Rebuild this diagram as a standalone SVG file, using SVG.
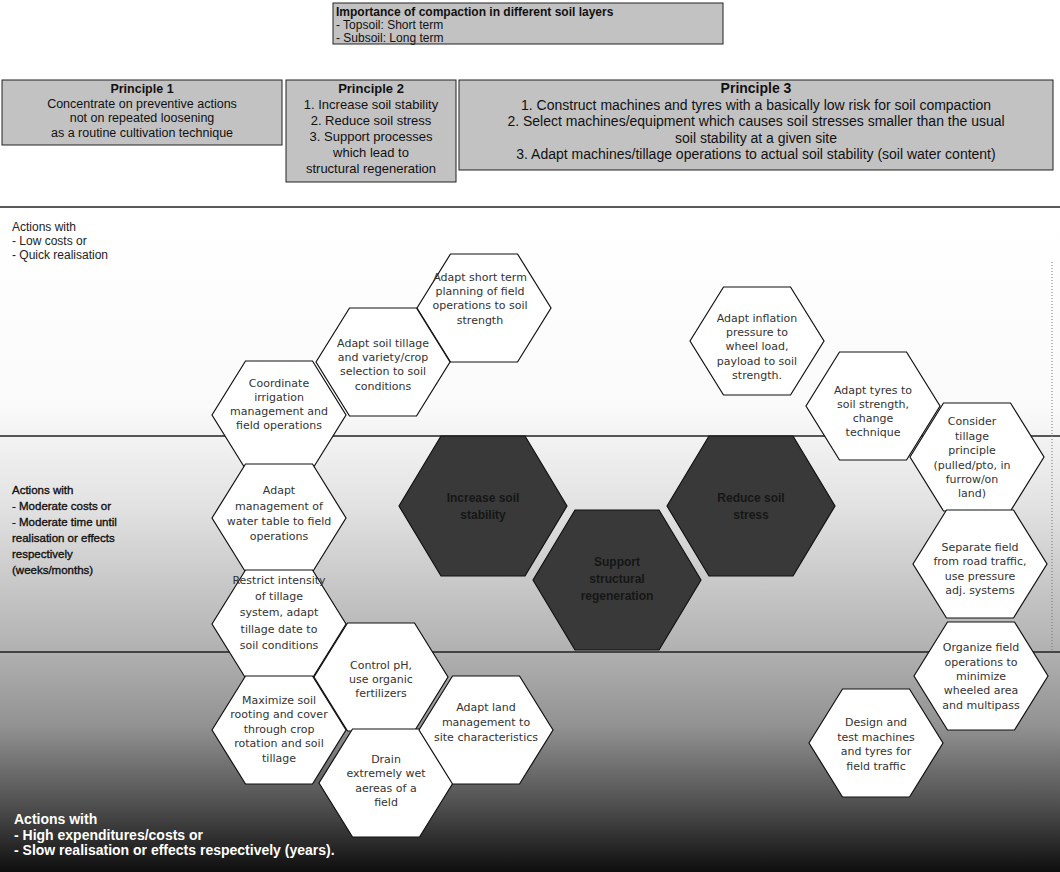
<svg xmlns="http://www.w3.org/2000/svg" width="1060" height="872" viewBox="0 0 1060 872">
<defs>
<linearGradient id="bg" x1="0" y1="207" x2="0" y2="872" gradientUnits="userSpaceOnUse">
<stop offset="0" stop-color="#ffffff"/>
<stop offset="0.3" stop-color="#fafafa"/>
<stop offset="0.45" stop-color="#e2e2e2"/>
<stop offset="0.66" stop-color="#b3b3b3"/>
<stop offset="0.78" stop-color="#929292"/>
<stop offset="0.9" stop-color="#4f4f4f"/>
<stop offset="1" stop-color="#0e0e0e"/>
</linearGradient>
<polygon id="hw" points="-67,0 -33.5,-54 33.5,-54 67,0 33.5,54 -33.5,54"/>
<polygon id="hd" points="-84,0 -42,-70 42,-70 84,0 42,70 -42,70"/>
</defs>
<style>
.box{fill:#c2c2c2;stroke:#222;stroke-width:1}
.pt{font-family:"Liberation Sans",Arial,sans-serif;font-size:13px;fill:#111;text-anchor:middle}
.p1{font-size:12.5px}
.p3{font-size:14px}
.tt{font-family:"Liberation Sans",Arial,sans-serif;font-size:12px;fill:#111}
.b{font-weight:bold}
.sep{stroke:#222;stroke-width:1.3}
.hexw{fill:#fff;stroke:#111;stroke-width:1.2}
.hexd{fill:#393939;stroke:#111;stroke-width:1.2}
.ht{font-family:"DejaVu Sans",Verdana,sans-serif;font-size:11px;fill:#333;text-anchor:middle}
.dt{font-family:"Liberation Sans",Arial,sans-serif;font-size:12px;font-weight:bold;fill:#161616;text-anchor:middle}
.lab{font-family:"Liberation Sans",Arial,sans-serif;font-size:12px;fill:#222}
.labm{font-family:"Liberation Sans",Arial,sans-serif;font-size:11.5px;fill:#111;stroke:#111;stroke-width:0.35}
.labw{font-family:"Liberation Sans",Arial,sans-serif;font-size:14px;font-weight:bold;fill:#fff}
</style>
<rect x="0" y="0" width="1060" height="872" fill="#fff"/>
<rect x="0" y="207" width="1060" height="665" fill="url(#bg)"/>

<g id="bands">
<line class="sep" x1="0" y1="207" x2="1060" y2="207"/>
<line class="sep" x1="0" y1="436" x2="1060" y2="436"/>
<line class="sep" x1="0" y1="652" x2="1060" y2="652"/>
<line x1="1052" y1="262" x2="1052" y2="650" stroke="#777" stroke-width="1" stroke-dasharray="1 2"/>
</g>

<g id="importance">
<rect class="box" x="333" y="3" width="390" height="41"/>
<text class="tt b" x="336" y="15.5">Importance of compaction in different soil layers</text>
<text class="tt" x="336" y="28.5">- Topsoil: Short term</text>
<text class="tt" x="336" y="41.5">- Subsoil: Long term</text>
</g>

<g id="principle1">
<rect class="box" x="2" y="80" width="280" height="65"/>
<text class="pt p1 b" x="142" y="93">Principle 1</text>
<text class="pt p1" x="142" y="107.5">Concentrate on preventive actions</text>
<text class="pt p1" x="142" y="122">not on repeated loosening</text>
<text class="pt p1" x="142" y="136.5">as a routine cultivation technique</text>
</g>
<g id="principle2">
<rect class="box" x="286" y="80" width="170" height="102"/>
<text class="pt b" x="371" y="93">Principle 2</text>
<text class="pt" x="371" y="109">1. Increase soil stability</text>
<text class="pt" x="371" y="125">2. Reduce soil stress</text>
<text class="pt" x="371" y="141">3. Support processes</text>
<text class="pt" x="371" y="157">which lead to</text>
<text class="pt" x="371" y="173">structural regeneration</text>
</g>
<g id="principle3">
<rect class="box" x="459" y="80" width="594" height="90"/>
<text class="pt p3 b" x="756" y="93">Principle 3</text>
<text class="pt p3" x="756" y="109.5">1. Construct machines and tyres with a basically low risk for soil compaction</text>
<text class="pt p3" x="756" y="126">2. Select machines/equipment which causes soil stresses smaller than the usual</text>
<text class="pt p3" x="756" y="142.5">soil stability at a given site</text>
<text class="pt p3" x="756" y="159">3. Adapt machines/tillage operations to actual soil stability (soil water content)</text>
</g>

<g id="label-low">
<text class="lab" x="12" y="231">Actions with</text>
<text class="lab" x="12" y="245">- Low costs or</text>
<text class="lab" x="12" y="259">- Quick realisation</text>
</g>
<g id="label-moderate">
<text class="labm" x="12" y="494">Actions with</text>
<text class="labm" x="12" y="510">- Moderate costs or</text>
<text class="labm" x="12" y="526">- Moderate time until</text>
<text class="labm" x="12" y="542">realisation or effects</text>
<text class="labm" x="12" y="558">respectively</text>
<text class="labm" x="12" y="574">(weeks/months)</text>
</g>
<g id="label-high">
<text class="labw" x="14" y="824">Actions with</text>
<text class="labw" x="14" y="839.5">- High expenditures/costs or</text>
<text class="labw" x="14" y="855">- Slow realisation or effects respectively (years).</text>
</g>

<g id="hexA" transform="translate(484,308)"><use href="#hw" class="hexw"/>
<text class="ht" x="-4" y="-27">Adapt short term</text><text class="ht" x="-4" y="-13">planning of field</text><text class="ht" x="-4" y="1">operations to soil</text><text class="ht" x="-4" y="16">strength</text></g>
<g id="hexB" transform="translate(383,362)"><use href="#hw" class="hexw"/>
<text class="ht" y="-15">Adapt soil tillage</text><text class="ht" y="-1">and variety/crop</text><text class="ht" y="13">selection to soil</text><text class="ht" y="28">conditions</text></g>
<g id="hexC" transform="translate(279,415)"><use href="#hw" class="hexw"/>
<text class="ht" y="-28">Coordinate</text><text class="ht" y="-14">irrigation</text><text class="ht" y="0">management and</text><text class="ht" y="14">field operations</text></g>
<g id="hexD" transform="translate(279,518)"><use href="#hw" class="hexw"/>
<text class="ht" y="-24">Adapt</text><text class="ht" y="-8">management of</text><text class="ht" y="7">water table to field</text><text class="ht" y="22">operations</text></g>
<g id="hexE" transform="translate(279,624)"><use href="#hw" class="hexw"/>
<text class="ht" y="-40">Restrict intensity</text><text class="ht" y="-24">of tillage</text><text class="ht" y="-8">system, adapt</text><text class="ht" y="9">tillage date to</text><text class="ht" y="25">soil conditions</text></g>
<g id="hexF" transform="translate(381,677)"><use href="#hw" class="hexw"/>
<text class="ht" y="-8">Control pH,</text><text class="ht" y="6">use organic</text><text class="ht" y="20">fertilizers</text></g>
<g id="hexG" transform="translate(279,730)"><use href="#hw" class="hexw"/>
<text class="ht" y="-26">Maximize soil</text><text class="ht" y="-12">rooting and cover</text><text class="ht" y="3">through crop</text><text class="ht" y="17">rotation and soil</text><text class="ht" y="32">tillage</text></g>
<g id="hexH" transform="translate(386,783)"><use href="#hw" class="hexw"/>
<text class="ht" y="-20">Drain</text><text class="ht" y="-6">extremely wet</text><text class="ht" y="9">aereas of a</text><text class="ht" y="23">field</text></g>
<g id="hexI" transform="translate(486,730)"><use href="#hw" class="hexw"/>
<text class="ht" y="-19">Adapt land</text><text class="ht" y="-4">management to</text><text class="ht" y="11">site characteristics</text></g>

<g id="hexJ" transform="translate(757,341)"><use href="#hw" class="hexw"/>
<text class="ht" y="-19">Adapt inflation</text><text class="ht" y="-5">pressure to</text><text class="ht" y="9">wheel load,</text><text class="ht" y="24">payload to soil</text><text class="ht" y="38">strength.</text></g>
<g id="hexK" transform="translate(873,406)"><use href="#hw" class="hexw"/>
<text class="ht" y="-12">Adapt tyres to</text><text class="ht" y="2">soil strength,</text><text class="ht" y="16">change</text><text class="ht" y="30">technique</text></g>
<g id="hexL" transform="translate(977,457)"><use href="#hw" class="hexw"/>
<text class="ht" x="-5" y="-32">Consider</text><text class="ht" x="-5" y="-17">tillage</text><text class="ht" x="-5" y="-3">principle</text><text class="ht" x="-5" y="12">(pulled/pto, in</text><text class="ht" x="-5" y="26">furrow/on</text><text class="ht" x="-5" y="40">land)</text></g>
<g id="hexM" transform="translate(980,564)"><use href="#hw" class="hexw"/>
<text class="ht" y="-13">Separate field</text><text class="ht" y="1">from road traffic,</text><text class="ht" y="16">use pressure</text><text class="ht" y="30">adj. systems</text></g>
<g id="hexN" transform="translate(981,676)"><use href="#hw" class="hexw"/>
<text class="ht" y="-25">Organize field</text><text class="ht" y="-10">operations to</text><text class="ht" y="4">minimize</text><text class="ht" y="18">wheeled area</text><text class="ht" y="33">and multipass</text></g>
<g id="hexO" transform="translate(876,743)"><use href="#hw" class="hexw"/>
<text class="ht" y="-17">Design and</text><text class="ht" y="-2">test machines</text><text class="ht" y="12">and tyres for</text><text class="ht" y="27">field traffic</text></g>

<g id="hexStability" transform="translate(483,506)"><use href="#hd" class="hexd"/>
<text class="dt" y="-4">Increase soil</text><text class="dt" y="13">stability</text></g>
<g id="hexStress" transform="translate(751,506)"><use href="#hd" class="hexd"/>
<text class="dt" y="-4">Reduce soil</text><text class="dt" y="13">stress</text></g>
<g id="hexRegeneration" transform="translate(617,580)"><use href="#hd" class="hexd"/>
<text class="dt" y="-14">Support</text><text class="dt" y="3">structural</text><text class="dt" y="20">regeneration</text></g>
</svg>
